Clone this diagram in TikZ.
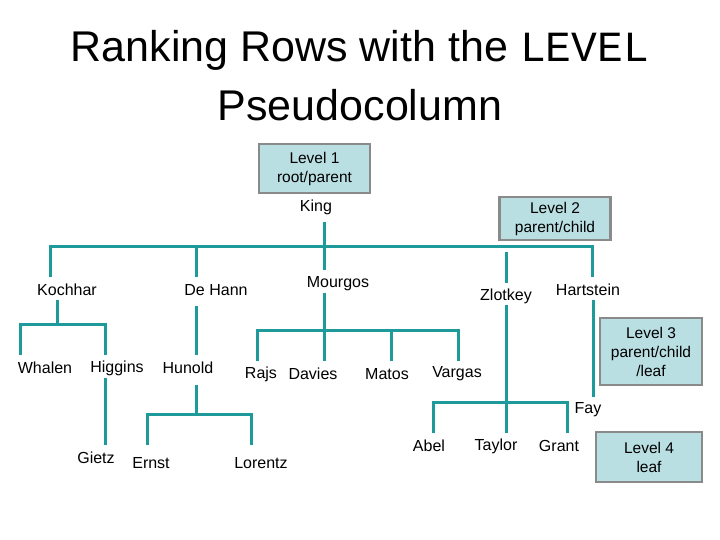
\documentclass[tikz,border=0pt]{standalone}
\usepackage{fontspec}
\setmainfont{Liberation Sans}
\setmonofont{Liberation Mono}
\definecolor{teal1}{HTML}{1E9A9A}
\definecolor{boxfill}{HTML}{BADFE3}
\definecolor{boxline}{HTML}{8A8A8A}
\begin{document}
\begin{tikzpicture}[x=1pt,y=-1pt,
  lbl/.style={font=\fontsize{16}{18}\selectfont,inner sep=0pt},
  lvl/.style={draw=boxline,line width=2.2pt,fill=boxfill,font=\fontsize{15.5}{19}\selectfont,align=center,inner sep=0pt},
  ln/.style={draw=teal1,line width=3pt}]
\useasboundingbox (0,0) rectangle (720,540);
\node[font=\fontsize{43}{46}\selectfont] (t1) at (360,50) {Ranking Rows with the \texttt{LEVEL}};
\node[font=\fontsize{43}{46}\selectfont] (t2) at (360,105) {Pseudocolumn};
\node[lvl,minimum width=111pt,minimum height=49pt] (L1) at (314.5,168.5) {Level 1\\root/parent};
\node[lvl,minimum width=111pt,minimum height=43pt] (L2) at (555,218.5) {Level 2\\parent/child};
\node[lvl,minimum width=102pt,minimum height=67pt] (L3) at (651,351.5) {Level 3\\parent/child\\/leaf};
\node[lvl,minimum width=106pt,minimum height=50pt] (L4) at (649,457) {Level 4\\leaf};
\foreach \n/\t/\x/\y in {king/King/316/207, koc/Kochhar/67/290, deh/De Hann/216/290, mou/Mourgos/338/284,
  zlo/Zlotkey/506/296, har/Hartstein/588/290, wha/Whalen/45/368, hig/Higgins/117/368, hun/Hunold/188/368,
  raj/Rajs/261/374, dav/Davies/313/374, mat/Matos/387/374, var/Vargas/457/374, fay/Fay/588/410,
  gie/Gietz/96/458, ern/Ernst/151/463, lor/Lorentz/261/463, abe/Abel/429/446, tay/Taylor/496/446, gra/Grant/559/446}
  \node[lbl] (\n) at (\x,\y) {\t};
% King level
\coordinate (k1) at (324,222);
\coordinate (kb) at (324,246);
\draw[ln] (k1) -- (kb);
\draw[ln] (50,277) -- (50,246) -- (592,246) -- (592,277);
\draw[ln] (196,246) -- (196,277);
\draw[ln] (kb) -- (324,270);
\draw[ln] (506,252) -- (506,283);
% Kochhar
\draw[ln] (57,300) -- (57,324);
\draw[ln] (20,355) -- (20,324) -- (105,324) -- (105,355);
\draw[ln] (105,378) -- (105,445);
% De Hann
\draw[ln] (196,306) -- (196,355);
\draw[ln] (196,385) -- (196,414);
\draw[ln] (147,445) -- (147,414) -- (251,414) -- (251,445);
% Mourgos
\draw[ln] (324,293) -- (324,330);
\draw[ln] (257,361) -- (257,330) -- (458,330) -- (458,361);
\draw[ln] (324,330) -- (324,361);
\draw[ln] (391,330) -- (391,361);
% Zlotkey
\draw[ln] (506,305) -- (506,433);
\draw[ln] (433,433) -- (433,402) -- (567,402) -- (567,433);
% Hartstein
\draw[ln] (593,300) -- (593,397);
\end{tikzpicture}
\end{document}
